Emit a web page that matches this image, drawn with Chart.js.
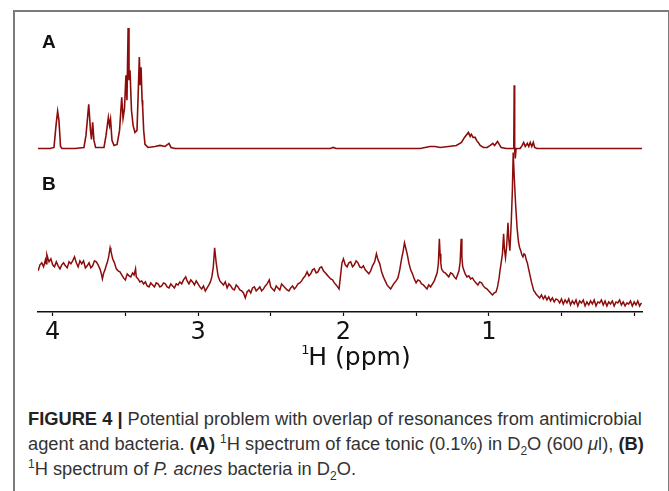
<!DOCTYPE html>
<html>
<head>
<meta charset="utf-8">
<script src="https://cdn.jsdelivr.net/npm/chart.js@4"></script>
<style>
  html, body { margin: 0; padding: 0; background: #fff; }
  body { width: 669px; height: 491px; position: relative; overflow: hidden; }
  #frame { position: absolute; left: 13px; top: 10px; width: 653px; height: 520px; border: 2px solid #7b7b7b; }
  #plot { position: absolute; left: 0; top: 0; }
  #caption {
    position: absolute; left: 28px; top: 406px; white-space: nowrap;
    font-family: "Liberation Sans", Arial, sans-serif; font-size: 18.3px; line-height: 25px; color: #333;
  }
  #caption b { color: #222; }
  #caption sup, #caption sub { font-size: 12px; line-height: 0; }
</style>
</head>
<body>
<div id="frame"></div>
<canvas id="plot" width="669" height="380"></canvas>
<div id="caption">
  <b>FIGURE 4 |</b> Potential problem with overlap of resonances from antimicrobial<br>
  agent and bacteria. <b>(A)</b> <sup>1</sup>H spectrum of face tonic (0.1%) in D<sub>2</sub>O (600 <i>μ</i>l), <b>(B)</b><br>
  <sup>1</sup>H spectrum of <i>P. acnes</i> bacteria in D<sub>2</sub>O.
</div>
<script>
// [ppm, intensity] — face tonic (A)
const traceA = [
  [4.101, 0], [4.019, 0], [3.991, 1], [3.977, 23], [3.966, 37], [3.957, 28], [3.946, 2], [3.936, 0],
  [3.847, 0], [3.785, 1], [3.771, 13], [3.752, 44], [3.740, 18], [3.733, 9], [3.725, 26], [3.716, 8], [3.705, 1],
  [3.647, 1], [3.633, 13], [3.617, 31], [3.609, 23], [3.602, 29], [3.592, 8], [3.578, 3],
  [3.557, 4], [3.540, 18], [3.525, 51], [3.516, 30], [3.506, 40], [3.496, 73], [3.489, 48],
  [3.481, 120], [3.475, 68], [3.468, 78], [3.458, 38], [3.447, 23], [3.434, 16], [3.420, 18],
  [3.411, 58], [3.404, 91], [3.398, 63], [3.392, 81], [3.385, 48], [3.381, 41], [3.374, 18],
  [3.365, 4], [3.344, 1], [3.296, 2], [3.262, 3], [3.227, 2], [3.200, 5], [3.186, 1], [3.158, 0],
  [2.090, 0], [2.070, 1], [2.050, 0],
  [1.472, 0], [1.404, 2], [1.369, 2], [1.335, 1], [1.278, 2], [1.223, 3], [1.188, 6], [1.167, 11],
  [1.140, 16], [1.128, 12], [1.120, 14], [1.108, 11], [1.094, 11], [1.084, 8], [1.073, 6], [1.059, 3],
  [1.037, 1], [1.011, 1], [0.990, 3], [0.972, 5], [0.960, 3], [0.940, 7], [0.928, 4], [0.915, 1],
  [0.880, 0], [0.838, 0], [0.828, 0], [0.825, 63], [0.822, 0], [0.818, -10], [0.812, 0],
  [0.784, 0], [0.770, 3], [0.760, 6], [0.749, 2], [0.735, 5], [0.725, 2], [0.715, 6], [0.704, 2],
  [0.694, 6], [0.684, 1], [0.669, 0], [-0.054, 0]
];

// [ppm, intensity] — P. acnes (B)
const traceB = [
  [4.100, 41], [4.0875, 47], [4.075, 49], [4.0625, 45], [4.050, 52], [4.045, 48], [4.040, 57], [4.032, 53],
  [4.025, 50], [4.0125, 53], [4.000, 47], [3.9875, 45], [3.975, 50], [3.9625, 46], [3.950, 43], [3.9375, 47],
  [3.925, 49], [3.9125, 46], [3.900, 44], [3.8875, 50], [3.875, 48], [3.8625, 51], [3.850, 55], [3.8375, 49],
  [3.825, 45], [3.8125, 51], [3.800, 48], [3.7875, 51], [3.775, 44], [3.7625, 46], [3.750, 49], [3.7375, 44],
  [3.725, 46], [3.7125, 51], [3.700, 50], [3.6875, 47], [3.675, 43], [3.665, 38], [3.658, 33], [3.649, 39],
  [3.640, 42], [3.6325, 46], [3.625, 49], [3.615, 55], [3.605, 64], [3.600, 61], [3.5875, 53], [3.575, 49],
  [3.5625, 43], [3.550, 41], [3.5375, 40], [3.525, 37], [3.5125, 34], [3.500, 32], [3.4875, 38], [3.475, 36],
  [3.4625, 35], [3.450, 39], [3.440, 37], [3.430, 43], [3.425, 35], [3.4125, 33], [3.400, 30], [3.3875, 31],
  [3.375, 28], [3.3625, 30], [3.350, 26], [3.3375, 25], [3.325, 29], [3.3125, 27], [3.300, 25], [3.2875, 29],
  [3.275, 28], [3.2625, 25], [3.250, 26], [3.2375, 29], [3.225, 28], [3.2125, 25], [3.200, 24], [3.1875, 28],
  [3.175, 26], [3.1625, 24], [3.150, 28], [3.1375, 27], [3.125, 30], [3.1125, 28], [3.100, 32], [3.085, 35],
  [3.075, 31], [3.0625, 28], [3.050, 32], [3.0375, 30], [3.025, 27], [3.0125, 31], [3.000, 28], [2.9875, 25],
  [2.975, 23], [2.9625, 26], [2.950, 21], [2.9375, 24], [2.925, 27], [2.915, 30], [2.905, 35], [2.895, 45],
  [2.886, 64], [2.875, 49], [2.8625, 36], [2.850, 31], [2.8375, 29], [2.825, 27], [2.8125, 30], [2.800, 24],
  [2.7875, 28], [2.775, 26], [2.7625, 23], [2.750, 22], [2.7375, 27], [2.725, 25], [2.7125, 22], [2.700, 21],
  [2.6875, 19], [2.675, 14], [2.6625, 20], [2.650, 22], [2.6375, 19], [2.625, 24], [2.6125, 25], [2.600, 21],
  [2.5875, 23], [2.575, 25], [2.5625, 21], [2.550, 23], [2.5375, 26], [2.525, 28], [2.510, 32], [2.500, 25],
  [2.4875, 23], [2.475, 21], [2.4625, 26], [2.450, 24], [2.4375, 22], [2.425, 28], [2.4125, 26], [2.400, 24],
  [2.3875, 22], [2.375, 21], [2.3625, 24], [2.350, 26], [2.3375, 23], [2.325, 25], [2.3125, 28], [2.300, 29],
  [2.2875, 31], [2.275, 34], [2.2625, 36], [2.250, 40], [2.2375, 36], [2.225, 38], [2.2125, 42], [2.200, 43],
  [2.1875, 39], [2.175, 40], [2.1625, 44], [2.150, 45], [2.1375, 41], [2.125, 39], [2.1125, 37], [2.100, 35],
  [2.0875, 33], [2.075, 32], [2.0625, 29], [2.050, 27], [2.040, 25], [2.030, 23], [2.010, 49], [2.000, 53],
  [1.9875, 47], [1.975, 45], [1.9625, 49], [1.950, 50], [1.9375, 45], [1.925, 47], [1.9125, 51], [1.900, 49],
  [1.8875, 45], [1.875, 44], [1.8625, 46], [1.850, 42], [1.8375, 40], [1.825, 38], [1.8125, 41], [1.800, 46],
  [1.785, 50], [1.773, 58], [1.762, 52], [1.750, 48], [1.7375, 40], [1.725, 35], [1.7125, 31], [1.700, 27],
  [1.6875, 25], [1.675, 23], [1.6625, 26], [1.650, 29], [1.6375, 31], [1.625, 34], [1.6125, 42], [1.600, 53],
  [1.590, 60], [1.580, 69], [1.570, 63], [1.560, 57], [1.550, 49], [1.5375, 42], [1.525, 38], [1.5125, 33],
  [1.500, 29], [1.4875, 32], [1.475, 31], [1.4625, 28], [1.450, 27], [1.4375, 25], [1.425, 23], [1.4125, 27],
  [1.400, 25], [1.3875, 28], [1.375, 31], [1.365, 35], [1.355, 39], [1.347, 48], [1.340, 73], [1.335, 58],
  [1.330, 49], [1.325, 43], [1.3125, 40], [1.300, 39], [1.2875, 37], [1.275, 35], [1.2625, 39], [1.250, 38],
  [1.2375, 35], [1.225, 33], [1.215, 37], [1.205, 41], [1.197, 50], [1.190, 73], [1.185, 55], [1.180, 46],
  [1.175, 43], [1.1625, 38], [1.150, 35], [1.1375, 36], [1.125, 33], [1.1125, 34], [1.100, 31], [1.0875, 29],
  [1.075, 27], [1.0625, 30], [1.050, 29], [1.0375, 26], [1.025, 24], [1.0125, 23], [1.000, 21], [0.9875, 19],
  [0.975, 17], [0.9625, 19], [0.950, 20], [0.940, 25], [0.930, 33], [0.922, 42], [0.915, 49], [0.906, 58],
  [0.898, 78], [0.892, 62], [0.885, 54], [0.877, 66], [0.868, 89], [0.862, 72], [0.855, 61], [0.850, 75],
  [0.845, 91], [0.838, 120], [0.832, 159], [0.825, 135], [0.815, 106], [0.805, 83], [0.795, 69], [0.7875, 64],
  [0.780, 61], [0.7725, 57], [0.765, 55], [0.7575, 58], [0.750, 57], [0.7425, 52], [0.735, 49], [0.7275, 44],
  [0.720, 39], [0.7125, 34], [0.705, 29], [0.6975, 25], [0.690, 21], [0.6825, 20], [0.675, 18], [0.6625, 16],
  [0.650, 14], [0.6375, 17], [0.625, 13], [0.6125, 16], [0.600, 12], [0.5875, 15], [0.575, 11], [0.5625, 14],
  [0.550, 10], [0.5375, 13], [0.525, 12], [0.5125, 9], [0.500, 13], [0.4875, 8], [0.475, 12], [0.4625, 9],
  [0.450, 13], [0.4375, 7], [0.425, 11], [0.4125, 8], [0.400, 12], [0.3875, 6], [0.375, 11], [0.3625, 9],
  [0.350, 12], [0.3375, 6], [0.325, 10], [0.3125, 7], [0.300, 11], [0.2875, 8], [0.275, 12], [0.2625, 6],
  [0.250, 10], [0.2375, 9], [0.225, 12], [0.2125, 7], [0.200, 11], [0.1875, 6], [0.175, 10], [0.1625, 8],
  [0.150, 11], [0.1375, 6], [0.125, 10], [0.1125, 9], [0.100, 12], [0.0875, 7], [0.075, 10], [0.0625, 6],
  [0.050, 9], [0.0375, 8], [0.025, 11], [0.0125, 6], [0.000, 10], [-0.0125, 7], [-0.025, 11], [-0.0375, 6],
  [-0.050, 9]
];

const tickPpm = [0, 0.5, 1, 1.5, 2, 2.5, 3, 3.5, 4];
const ppmRange = [-0.054, 4.101];
const lineColor = '#8c0c0c';

// panel letters and the axis title (superscript mass number) drawn on the canvas
const annotations = {
  id: 'annotations',
  afterDraw(chart) {
    const c = chart.ctx;
    const xs = chart.scales.x;
    c.save();
    c.fillStyle = '#111';
    c.textBaseline = 'alphabetic';
    c.font = 'bold 19px "Liberation Sans", Arial, sans-serif';
    c.fillText('A', 42, 48);
    c.fillText('B', 42, 190);

    const mid = xs.getPixelForValue(1.91);
    c.font = '25px "DejaVu Sans"';
    const w = c.measureText('H (ppm)').width;
    const left = mid - w / 2 + 3;
    c.fillText('H (ppm)', left, 365);
    c.font = '13px "DejaVu Sans"';
    c.fillText('1', left - 7, 354);
    c.restore();
  }
};

const ctx = document.getElementById('plot').getContext('2d');
new Chart(ctx, {
  type: 'line',
  data: {
    datasets: [
      {
        label: 'A',
        data: traceA.map(p => ({ x: p[0], y: p[1] })),
        yAxisID: 'yA',
        borderColor: lineColor,
        borderWidth: 1.6,
        pointRadius: 0,
        tension: 0
      },
      {
        label: 'B',
        data: traceB.map(p => ({ x: p[0], y: p[1] })),
        yAxisID: 'yB',
        borderColor: lineColor,
        borderWidth: 1.5,
        pointRadius: 0,
        tension: 0
      }
    ]
  },
  options: {
    responsive: false,
    animation: false,
    layout: { padding: { left: 38, right: 27, top: 20, bottom: 30 } },
    scales: {
      x: {
        type: 'linear',
        reverse: true,
        min: ppmRange[0],
        max: ppmRange[1],
        afterBuildTicks: axis => { axis.ticks = tickPpm.map(v => ({ value: v })); },
        grid: { drawOnChartArea: false, drawTicks: true, tickLength: 4, color: '#111', tickWidth: 1.2 },
        border: { display: true, color: '#111', width: 1.5 },
        ticks: {
          autoSkip: false,
          maxRotation: 0,
          padding: 5,
          color: '#111',
          font: { family: 'DejaVu Sans', size: 24, lineHeight: 1 },
          callback: v => (Number.isInteger(v) && v > 0) ? String(v) : ''
        },
        title: { display: false }
      },
      yA: { type: 'linear', display: false, min: -163, max: 128 },
      yB: { type: 'linear', display: false, min: 0, max: 291 }
    },
    plugins: {
      legend: { display: false },
      tooltip: { enabled: false }
    }
  },
  plugins: [annotations]
});
</script>
</body>
</html>
